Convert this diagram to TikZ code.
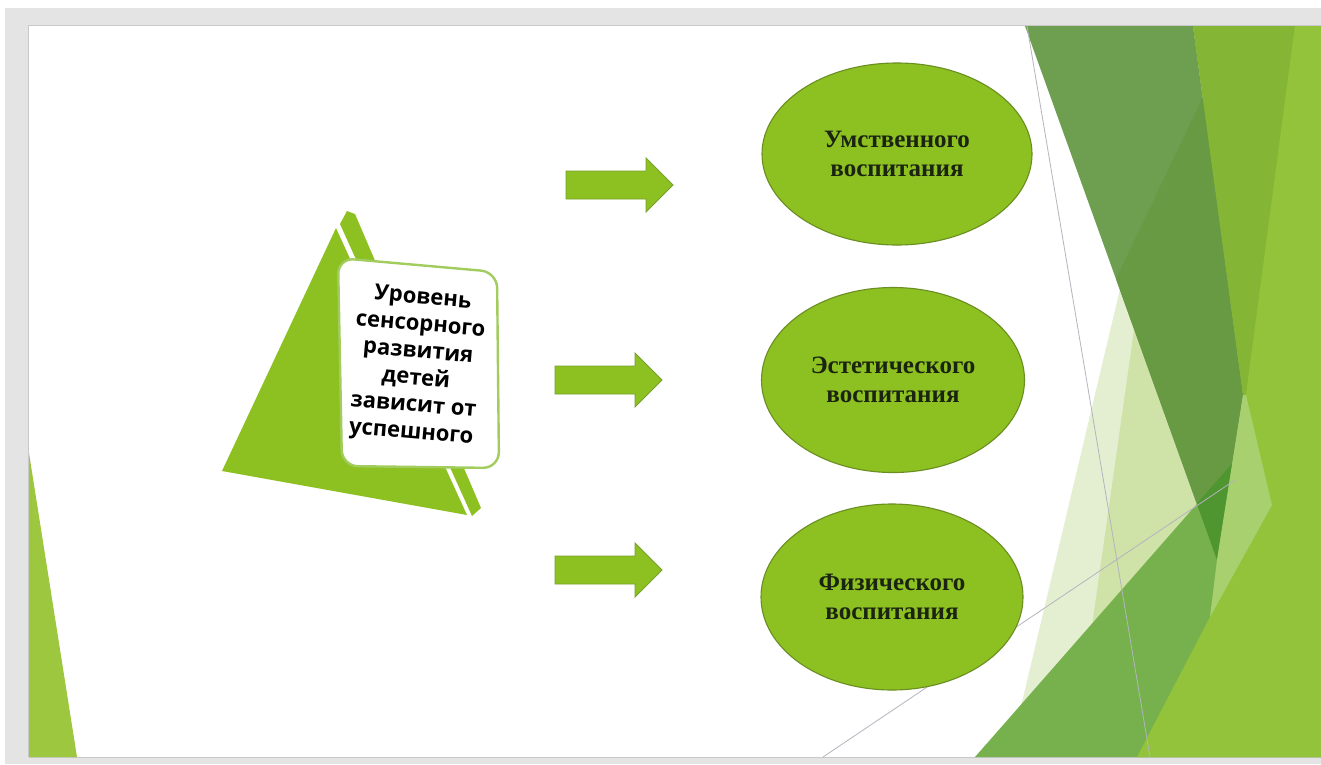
\documentclass[tikz,border=0pt]{standalone}
\usepackage{fontspec}
\usetikzlibrary{shapes.geometric}
\newfontfamily\ellfont{Liberation Serif}
\newfontfamily\boxfont{Open Sans}
\definecolor{framegrey}{HTML}{E4E4E4}
\definecolor{edgegrey}{HTML}{C8C8C8}
\definecolor{lime}{HTML}{8DC021}
\definecolor{limedark}{HTML}{6A8E22}
\definecolor{arrowedge}{HTML}{77A02C}
\definecolor{lefttri}{HTML}{9DC73E}
\definecolor{boxedge}{HTML}{A2CD5E}
\definecolor{paleA}{HTML}{E4EFD2}
\definecolor{paleB}{HTML}{CFE2A8}
\definecolor{darkgreen}{HTML}{6E9E50}
\definecolor{darkergreen}{HTML}{679A43}
\definecolor{spotgreen}{HTML}{4F9530}
\definecolor{bottomgreen}{HTML}{76B14D}
\definecolor{olivegreen}{HTML}{84B534}
\definecolor{lightgreen}{HTML}{92C33A}
\definecolor{lightoverlay}{HTML}{A8D06E}
\definecolor{thinline}{HTML}{B4B4BE}
\definecolor{elltext}{HTML}{1A2410}
\tikzset{
  ellnode/.style={ellipse, fill=lime, draw=limedark, line width=1.1pt,
    inner sep=0pt, align=center, text=elltext,
    font=\ellfont\bfseries\fontsize{25}{29}\selectfont},
  arrowfill/.style={fill=lime, draw=arrowedge, line width=0.9pt, line join=miter},
  barrow/.pic={\draw[arrowfill] (0,-14) -- (80,-14) -- (80,-27) -- (107,0) -- (80,27) -- (80,14) -- (0,14) -- cycle;},
  thin line/.style={draw=thinline, line width=0.8pt}
}
\begin{document}
\begin{tikzpicture}[x=1pt,y=-1pt]
\useasboundingbox (0,0) rectangle (1321,764);
% frame
\fill[white] (0,0) rectangle (1321,764);
\fill[framegrey] (5,8) rectangle (1321,764);
\fill[white] (29,26) rectangle (1321,757);
\draw[edgegrey, line width=1.2pt] (28.5,757) -- (28.5,25.5) -- (1321,25.5);
\draw[edgegrey, line width=1pt] (28.5,757.5) -- (1321,757.5);
% right decoration
\fill[paleA] (1120,289) -- (1217,560) -- (1009,757) -- cycle;
\fill[paleB] (1134,330) -- (1217,560) -- (1090,640) -- cycle;
\fill[lightgreen] (1193,26) -- (1321,26) -- (1321,757) -- (1137,757) -- (1210,617) -- (1217,560) -- (1243,395) -- cycle;
\fill[darkgreen] (1025,26) -- (1193,26) -- (1243,395) -- (1217,560) -- cycle;
\fill[darkergreen] (1203,97) -- (1116,279) -- (1217,560) -- (1243,395) -- cycle;
\fill[bottomgreen] (975,757) -- (1232,464) -- (1321,400) -- (1321,757) -- cycle;
\fill[spotgreen] (1196.8,503.8) -- (1232.2,463.3) -- (1217,560) -- cycle;
\fill[olivegreen] (1193,26) -- (1295,26) -- (1246,395) -- (1243,395) -- cycle;
\fill[lightgreen] (1295,26) -- (1321,26) -- (1321,757) -- (1137,757) -- (1210,617) -- (1246,395) -- cycle;
\fill[lightoverlay] (1243,395) -- (1246,395) -- (1272,505) -- (1210,617) -- (1217,560) -- cycle;
\coordinate (la1) at (1027,26);
\coordinate (la2) at (1150,757);
\coordinate (lb1) at (823,757);
\coordinate (lb2) at (1235,480);
\draw[thin line] (la1) -- (la2);
\draw[thin line] (lb1) -- (lb2);
% left bottom triangle
\fill[lefttri] (29,453) -- (29,757) -- (77,757) -- cycle;
% pyramid with label
\fill[lime] (336,228) -- (222,471) -- (467,515) -- cycle;
\fill[lime] (340,224) -- (347,211) -- (355,214) -- (481,508) -- (472,516) -- cycle;
\draw[boxedge, fill=white, line width=2.4pt, rounded corners=16pt]
  (338,258) -- (497,272) -- (499,468) -- (342,466) -- cycle;
\node[rotate=-5, align=center, inner sep=0pt,
  font=\boxfont\bfseries\fontsize{22}{27}\selectfont] (lbl) at (417,366)
  {Уровень\\сенсорного\\развития\\детей\\зависит от\\успешного};
% arrows
\pic (a1) at (566,185) {barrow};
\pic (a2) at (555,380) {barrow};
\pic (a3) at (555,570) {barrow};
% ellipses
\node[ellnode, minimum width=270pt, minimum height=182pt] (e1) at (897,154) {Умственного\\воспитания};
\node[ellnode, minimum width=263pt, minimum height=185pt] (e2) at (893,380) {Эстетического\\воспитания};
\node[ellnode, minimum width=262pt, minimum height=186pt] (e3) at (892,597) {Физического\\воспитания};
\end{tikzpicture}
\end{document}
